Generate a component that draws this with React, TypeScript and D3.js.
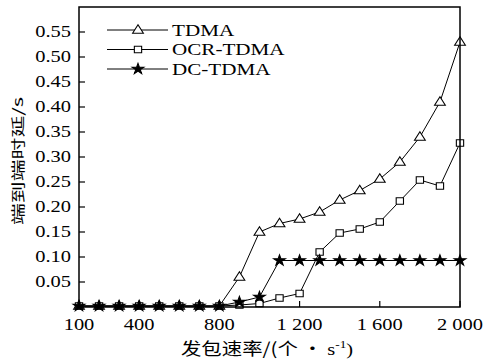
import * as d3 from "d3";

const WIDTH = 484;
const HEIGHT = 361;
const PLOT = { left: 79, right: 460, top: 7, bottom: 307 };
const SERIF = "Liberation Serif, Times New Roman, DejaVu Serif, serif";
const CJK = "Noto Sans CJK SC, sans-serif";
const STRETCH = 1.28; // the scanned figure is wider than tall

const rates = [100, 200, 300, 400, 500, 600, 700, 800, 900, 1000, 1100, 1200, 1300, 1400, 1500, 1600, 1700, 1800, 1900, 2000];
const tdma = [0.002, 0.002, 0.002, 0.002, 0.002, 0.002, 0.002, 0.002, 0.06, 0.15, 0.167, 0.176, 0.19, 0.214, 0.233, 0.256, 0.29, 0.34, 0.41, 0.53];
const ocrTdma = [0.002, 0.002, 0.002, 0.002, 0.002, 0.002, 0.002, 0.002, 0.004, 0.007, 0.018, 0.027, 0.11, 0.148, 0.156, 0.17, 0.212, 0.254, 0.242, 0.328];
const dcTdma = [0.002, 0.002, 0.002, 0.002, 0.002, 0.002, 0.002, 0.002, 0.01, 0.02, 0.093, 0.093, 0.093, 0.093, 0.093, 0.093, 0.093, 0.093, 0.093, 0.093];

const xTicks = [100, 400, 800, 1200, 1600, 2000];
const xTickLabels = ["100", "400", "800", "1 200", "1 600", "2 000"];
const yTicks = [0.05, 0.1, 0.15, 0.2, 0.25, 0.3, 0.35, 0.4, 0.45, 0.5, 0.55];

const seriesList = [
  { name: "TDMA", values: tdma, symbol: d3.symbolTriangle, size: 42, filled: false },
  { name: "OCR-TDMA", values: ocrTdma, symbol: d3.symbolSquare, size: 44, filled: false },
  { name: "DC-TDMA", values: dcTdma, symbol: d3.symbolStar, size: 36, filled: true },
];

function WideText(props: {
  x: number;
  y: number;
  anchor?: "start" | "middle" | "end";
  size: number;
  dy?: string;
  children: React.ReactNode;
}) {
  return (
    <g transform={`translate(${props.x},${props.y}) scale(${STRETCH},1)`}>
      <text
        textAnchor={props.anchor ?? "start"}
        dy={props.dy}
        style={{ fontFamily: SERIF, fontSize: props.size }}
      >
        {props.children}
      </text>
    </g>
  );
}

export default function App() {
  const x = d3.scaleLinear().domain([100, 2000]).range([PLOT.left, PLOT.right]);
  const y = d3.scaleLinear().domain([0, 0.6]).range([PLOT.bottom, PLOT.top]);

  const line = d3
    .line<[number, number]>()
    .x((d) => x(d[0]))
    .y((d) => y(d[1]));

  const marker = (s: (typeof seriesList)[number], cx: number, cy: number, key: string) => (
    <path
      key={key}
      d={d3.symbol(s.symbol, s.size)() ?? ""}
      transform={`translate(${cx},${cy + (s.symbol === d3.symbolTriangle ? 0.5 : 0)}) scale(1.1,1)`}
      fill={s.filled ? "#000" : "#fff"}
      stroke="#000"
      strokeWidth={1}
    />
  );

  return (
    <svg width={WIDTH} height={HEIGHT} style={{ position: "absolute", left: 0, top: 0 }}>
      <rect width={WIDTH} height={HEIGHT} fill="#fff" />

      {yTicks.map((t) => (
        <g key={t}>
          <line x1={PLOT.left} x2={PLOT.left + 6} y1={y(t)} y2={y(t)} stroke="#000" strokeWidth={1.2} />
          <WideText x={71} y={y(t)} anchor="end" size={16} dy="0.34em">
            {t.toFixed(2)}
          </WideText>
        </g>
      ))}
      {xTicks.map((t, i) => (
        <g key={t}>
          <line x1={x(t)} x2={x(t)} y1={PLOT.bottom} y2={PLOT.bottom - 6} stroke="#000" strokeWidth={1.2} />
          <WideText x={x(t)} y={330} anchor="middle" size={16}>
            {xTickLabels[i]}
          </WideText>
        </g>
      ))}

      {seriesList.map((s) => {
        const pts = rates.map((r, i) => [r, s.values[i]] as [number, number]);
        return (
          <g key={s.name}>
            <path d={line(pts) ?? ""} fill="none" stroke="#000" strokeWidth={1} />
            {pts.map((p, i) => marker(s, x(p[0]), y(p[1]), `${s.name}-${i}`))}
          </g>
        );
      })}

      <rect
        x={PLOT.left}
        y={PLOT.top}
        width={PLOT.right - PLOT.left}
        height={PLOT.bottom - PLOT.top}
        fill="none"
        stroke="#000"
        strokeWidth={1.5}
      />

      {seriesList.map((s, i) => {
        const ly = 30 + i * 19.5;
        return (
          <g key={s.name}>
            <line x1={107} x2={168} y1={ly} y2={ly} stroke="#000" strokeWidth={1} />
            {marker(s, 138, ly, `leg-${i}`)}
            <WideText x={172} y={ly} size={16.5} dy="0.35em">
              {s.name}
            </WideText>
          </g>
        );
      })}

      <text
        transform="translate(23,161) rotate(-90)"
        textAnchor="middle"
        textLength={128}
        lengthAdjust="spacingAndGlyphs"
        style={{ fontFamily: CJK, fontSize: 14 }}
      >
        端到端时延/s
      </text>
      <g transform={`translate(267,355) scale(1.2,1)`}>
        <text textAnchor="middle" style={{ fontSize: 17 }}>
          <tspan style={{ fontFamily: CJK }}>发包速率/(个 • </tspan>
          <tspan style={{ fontFamily: SERIF }}>s</tspan>
          <tspan style={{ fontFamily: SERIF, fontSize: 11 }} dy={-7}>-1</tspan>
          <tspan style={{ fontFamily: SERIF }} dy={7}>)</tspan>
        </text>
      </g>
    </svg>
  );
}
